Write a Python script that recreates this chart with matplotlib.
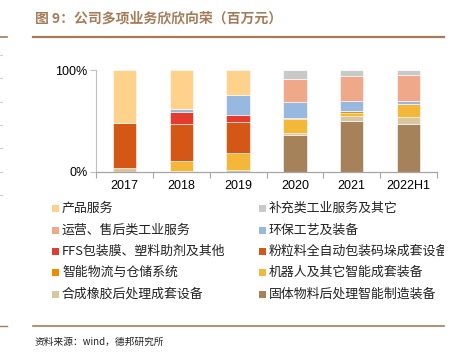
import matplotlib
matplotlib.use("Agg")
import matplotlib.pyplot as plt
import numpy as np
from matplotlib.patches import Rectangle
from matplotlib.lines import Line2D
from matplotlib.transforms import Bbox, TransformedBbox
from matplotlib.ticker import FixedLocator

plt.rcParams['font.family'] = ['Noto Sans CJK SC', 'DejaVu Sans']

categories = ['2017', '2018', '2019', '2020', '2021', '2022H1']

# stacked from bottom to top (percent)
s_solid = [0, 0, 0, 36.2, 50.2, 46.8]        # 固体物料后处理智能制造装备
s_rubber = [3.5, 1.2, 2.4, 2.5, 4.5, 7.0]    # 合成橡胶后处理成套设备
s_robot = [0, 9.9, 16.6, 13.6, 3.6, 13.0]    # 机器人及其它智能成套装备
s_logis = [0.5, 0, 0, 1.2, 1.6, 0.5]         # 智能物流与仓储系统
s_powder = [44.0, 35.8, 30.5, 0, 0, 0]       # 粉粒料全自动包装码垛成套设备
s_ffs = [0, 11.8, 6.6, 0, 0, 0]              # FFS包装膜、塑料助剂及其他
s_env = [0, 3.3, 19.4, 15.0, 10.5, 3.0]      # 环保工艺及装备
s_oper = [0, 0, 0, 23.0, 24.4, 25.2]         # 运营、售后类工业服务
s_supp = [0, 0, 0, 8.5, 5.2, 4.5]            # 补充类工业服务及其它
s_prod = [52.0, 38.0, 24.5, 0, 0, 0]         # 产品服务

names = ['固体物料后处理智能制造装备', '合成橡胶后处理成套设备', '机器人及其它智能成套装备',
         '智能物流与仓储系统', '粉粒料全自动包装码垛成套设备', 'FFS包装膜、塑料助剂及其他',
         '环保工艺及装备', '运营、售后类工业服务', '补充类工业服务及其它', '产品服务']
series = [s_solid, s_rubber, s_robot, s_logis, s_powder, s_ffs, s_env, s_oper, s_supp, s_prod]
colors = ['#A6825A', '#D9C69E', '#F5B73A', '#F08C00', '#D45716', '#E33B2E',
          '#97B8DF', '#F0A88A', '#C9C9C9', '#FFD28C']

W, H = 466, 354
fig = plt.figure(figsize=(W / 100, H / 100), dpi=100)
ax = fig.add_axes([96 / W, 1 - 172 / H, (437 - 96) / W, (172 - 70.5) / H])

x = np.arange(len(categories))
bottom = np.zeros(len(categories))
for vals, col in zip(series, colors):
    v = np.array(vals) / 100.0
    ax.bar(x, v, width=0.41, bottom=bottom, color=col, edgecolor='#FFFFFF',
           linewidth=0.4, zorder=2)
    bottom += v

ax.set_xlim(-0.5, len(categories) - 0.5)
ax.set_ylim(0, 1)
ax.set_yticks([0, 1])
ax.set_yticklabels(['0%', '100%'], fontsize=9, family='Liberation Sans')
ax.set_xticks(x)
ax.set_xticklabels(categories, fontsize=9, family='Liberation Sans')
ax.xaxis.set_minor_locator(FixedLocator(np.arange(-0.5, len(categories), 1.0)))
ax.tick_params(axis='x', which='major', length=0, pad=6)
ax.tick_params(axis='x', which='minor', length=4, color='#A6A6A6', width=0.8)
ax.tick_params(axis='y', length=4, color='#BFBFBF', width=0.8, pad=2)
for s in ['top', 'right']:
    ax.spines[s].set_visible(False)
ax.spines['left'].set_color('#BFBFBF')
ax.spines['left'].set_linewidth(0.8)
ax.spines['bottom'].set_color('#A6A6A6')
ax.spines['bottom'].set_linewidth(0.9)
ax.spines['bottom'].set_zorder(3)

# Legend (row-wise order as in reference)
leg_order = [9, 8, 7, 6, 5, 4, 3, 2, 1, 0]
rows_y = [208, 230, 251, 272, 294]
col_x = [52, 259]
clip = TransformedBbox(Bbox([[0, 0], [444 / W, 1]]), fig.transFigure)
for k, idx in enumerate(leg_order):
    r, c = divmod(k, 2)
    yc = rows_y[r]
    fig.patches.append(Rectangle((col_x[c] / W, 1 - (yc + 3.5) / H), 7 / W, 7 / H,
                                 transform=fig.transFigure, facecolor=colors[idx],
                                 edgecolor='none'))
    t = fig.text((col_x[c] + 10) / W, 1 - yc / H, names[idx], fontsize=9.3,
                 va='center', ha='left', color='#222222')
    t.set_clip_box(clip)
    t.set_clip_on(True)

# Title and decorations
brown = '#A57C59'
fig.text(35 / W, 1 - 18 / H, '图 9：公司多项业务欣欣向荣（百万元）', fontsize=10,
         fontweight='bold', color=brown, va='center', ha='left')
fig.lines.append(Line2D([33 / W, 444 / W], [1 - 37 / H, 1 - 37 / H],
                        transform=fig.transFigure, color=brown, linewidth=1.6))
fig.lines.append(Line2D([0, 7 / W], [1 - 37 / H, 1 - 37 / H],
                        transform=fig.transFigure, color=brown, linewidth=1.2))
fig.lines.append(Line2D([33 / W, 444 / W], [1 - 326 / H, 1 - 326 / H],
                        transform=fig.transFigure, color=brown, linewidth=1.2))
fig.lines.append(Line2D([0, 7 / W], [1 - 326 / H, 1 - 326 / H],
                        transform=fig.transFigure, color=brown, linewidth=1.0))
for yy in [55, 78, 102, 125, 148, 172, 195]:
    fig.lines.append(Line2D([0, 2 / W], [1 - yy / H, 1 - yy / H],
                            transform=fig.transFigure, color='#D0D0D0', linewidth=0.8))
fig.text(35 / W, 1 - 342 / H, '资料来源：wind，德邦研究所', fontsize=7,
         color='#222222', va='center', ha='left')

fig.savefig('out.png', dpi=100, facecolor='white')
